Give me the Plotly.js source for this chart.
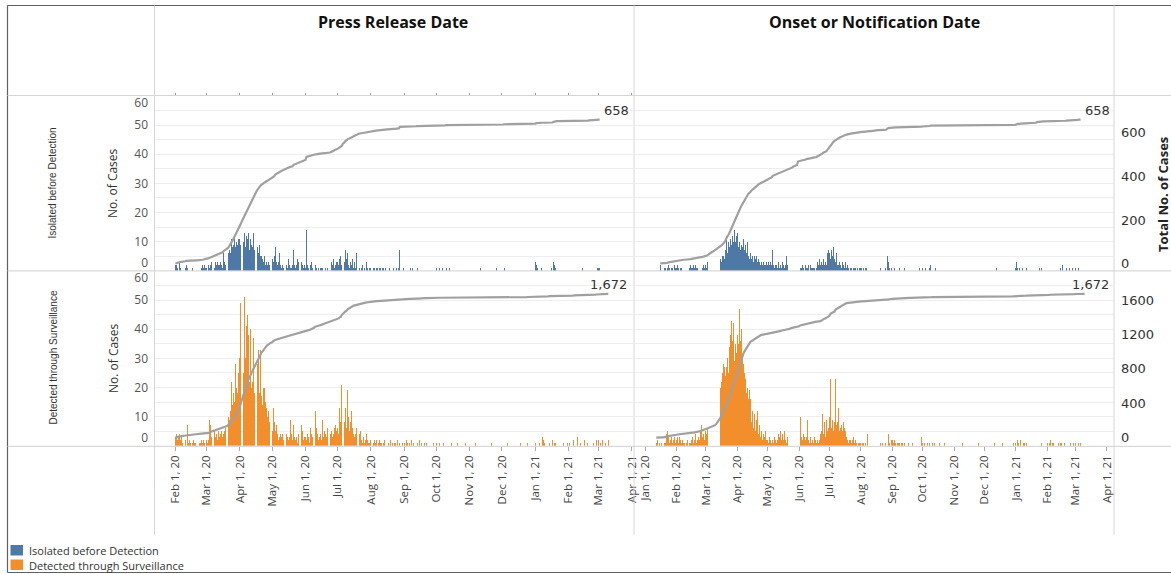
<!DOCTYPE html>
<html>
<head>
<meta charset="utf-8">
<script src="https://cdn.plot.ly/plotly-3.0.1.min.js"></script>
<style>
html, body { margin: 0; padding: 0; background: #ffffff; overflow: hidden; width: 1171px; height: 574px; }
#chart { width: 1171px; height: 574px; overflow: hidden; }
</style>
</head>
<body>
<div id="chart"></div>
<script>
// ---------------- DATA (daily new cases) ----------------
const columnTitles = ['Press Release Date', 'Onset or Notification Date'];
const rowTitles = ['Isolated before Detection', 'Detected through Surveillance'];
const seriesNames = ['Isolated before Detection', 'Detected through Surveillance'];

// Press release date, isolated before detection (from 2020-02-01)
const pressIsolatedStart = '2020-02-01';
const pressIsolated = [
  2,2,1,0,3,1,0,0,2,1,2,1,0,0,0,0,1,0,0,0,0,0,0,0,1,2,1,2,1,                 // Feb 20
  1,0,2,1,2,3,2,1,3,2,3,2,2,3,2,1,6,3,2,3,6,7,6,11,8,9,12,8,10,9,11,          // Mar
  11,9,12,10,13,8,12,11,13,7,11,9,8,13,7,10,8,6,9,5,5,4,3,5,2,3,2,3,2,3,      // Apr
  4,3,5,8,3,2,3,6,2,1,2,1,4,2,1,4,2,1,1,2,7,2,1,2,4,3,1,3,2,1,2,              // May
  1,14,2,1,0,2,3,1,1,2,1,0,1,0,1,1,1,0,0,1,0,1,1,0,3,2,4,1,2,3,               // Jun
  3,2,4,5,2,10,3,7,4,6,2,1,3,2,4,1,3,1,6,2,1,0,1,2,0,1,0,3,1,0,1,             // Jul
  1,0,1,1,0,1,1,0,1,1,0,1,1,0,1,0,0,1,0,0,0,1,0,0,1,0,1,7,0,0,1,              // Aug
  0,0,0,0,0,0,1,0,1,0,0,0,1,0,0,0,0,0,0,0,0,0,0,0,0,0,0,0,0,0,                // Sep
  1,0,0,1,0,0,1,0,0,1,0,0,1,0,0,0,0,0,0,0,0,0,0,0,0,0,0,0,0,0,0,              // Oct
  0,0,0,0,0,0,0,0,0,0,1,0,0,0,0,0,0,0,0,0,0,0,0,0,0,1,0,0,0,0,                // Nov
  0,0,1,0,0,0,0,0,0,0,0,0,0,0,0,0,0,0,0,0,0,0,0,0,0,0,0,0,0,0,0,              // Dec
  3,2,1,0,0,0,1,0,0,0,0,0,0,0,0,1,0,3,2,1,0,0,0,1,0,0,0,0,0,0,0,              // Jan 21
  0,0,0,0,0,0,1,0,0,0,0,0,0,1,0,0,0,0,0,1,0,0,0,0,0,0,0,1,                    // Feb 21
  1,1                                                                         // Mar 21
];

// Onset / notification date, isolated before detection (from 2020-01-16)
const onsetIsolatedStart = '2020-01-16';
const onsetIsolated = [
  2,0,0,0,1,1,0,1,2,1,0,1,1,0,2,1,                                            // Jan 20
  1,2,1,0,1,1,0,0,0,0,0,0,0,1,2,1,1,2,1,2,1,1,0,0,0,0,1,2,1,                  // Feb
  2,1,3,4,2,3,4,2,3,4,3,4,2,3,4,3,5,5,4,7,12,6,10,8,11,9,12,10,14,10,12,      // Mar
  13,8,10,7,9,8,11,7,9,6,10,5,4,6,4,5,3,5,4,5,3,4,3,2,3,2,3,2,2,3,            // Apr
  2,3,2,3,2,7,2,1,2,2,1,3,1,2,1,3,2,1,2,5,2,1,2,1,3,4,2,3,1,2,16,             // May
  2,1,1,2,1,0,2,1,1,2,0,2,1,1,1,1,0,1,3,2,4,2,3,2,4,2,3,2,6,7,                // Jun
  6,4,7,5,8,4,3,6,2,2,3,2,1,3,2,1,3,1,2,1,0,1,1,0,1,1,1,0,1,0,1,              // Jul
  1,1,0,1,0,1,1,0,0,1,0,1,0,0,1,0,2,0,0,1,0,0,0,0,1,0,5,3,1,0,1,              // Aug
  0,0,1,0,0,0,0,1,0,0,0,0,1,0,0,0,0,0,0,0,0,0,0,0,0,0,0,1,0,0,                // Sep
  1,0,0,1,0,0,0,1,2,0,0,0,0,1,0,0,0,0,0,0,0,0,0,0,0,0,0,0,0,0,0,              // Oct
  0,0,1,0,0,0,0,0,0,0,0,0,0,0,0,0,0,0,0,0,0,0,0,0,0,0,0,0,0,0,                // Nov
  0,0,0,0,0,0,0,0,0,0,0,0,1,0,0,0,0,0,0,0,0,0,0,0,0,0,0,0,0,0,0,              // Dec
  1,3,1,0,1,0,0,1,0,0,0,1,0,0,0,0,0,0,1,1,0,3,1,1,0,1,0,0,0,0,0,              // Jan 21
  0,0,0,0,0,0,0,0,0,0,0,0,0,1,0,2,0,0,0,1,0,0,1,0,0,1,0,0,                    // Feb 21
  1,0,0,1,0,0                                                                 // Mar 21
];

// Press release date, detected through surveillance (from 2020-02-01)
const pressDetectedStart = '2020-02-01';
const pressDetected = [
  3,4,2,3,4,2,3,1,1,2,0,7,1,2,1,0,1,2,1,1,0,2,1,1,2,1,2,1,0,                  // Feb 20
  2,1,2,9,7,3,4,5,3,4,2,5,3,4,5,3,4,5,6,8,10,9,12,22,14,18,15,28,20,18,25,    // Mar
  30,49,41,25,51,30,41,45,38,22,40,20,22,37,18,22,28,33,18,33,17,14,20,20,15,13,10,12,8,6, // Apr
  5,13,8,5,7,4,2,3,4,3,4,2,3,4,3,2,3,9,4,2,7,3,2,3,1,4,6,7,5,2,3,             // May
  3,2,4,3,1,6,4,3,13,12,6,4,2,3,4,2,9,3,5,4,3,6,2,4,5,3,4,6,7,5,              // Jun
  6,4,13,8,21,16,8,13,6,19,10,5,8,12,6,4,3,4,6,3,4,5,2,1,3,1,2,4,2,1,1,       // Jul
  2,3,1,2,1,2,0,1,2,1,1,0,1,2,0,1,1,0,2,0,1,0,1,1,0,2,0,1,0,1,0,              // Aug
  1,0,2,1,0,1,0,2,0,1,0,1,1,0,2,0,1,0,0,1,0,1,0,0,1,0,0,1,0,0,                // Sep
  1,0,0,1,0,0,0,1,0,0,0,0,0,0,1,0,0,0,0,0,1,0,0,0,0,0,0,1,0,0,0,              // Oct
  0,0,0,0,0,1,0,0,0,0,0,0,0,0,0,0,0,0,0,0,1,0,0,0,0,0,0,0,0,0,                // Nov
  0,0,0,0,0,1,0,0,0,0,0,0,0,0,0,0,0,1,0,0,0,0,0,0,1,0,0,0,0,0,0,              // Dec
  1,0,0,0,1,0,0,3,2,1,0,0,0,1,0,0,2,0,1,1,0,0,0,1,0,0,1,0,0,0,1,              // Jan 21
  0,1,0,0,0,2,0,0,3,0,0,1,0,0,0,2,0,0,1,0,0,0,0,1,0,0,2,0,                    // Feb 21
  2,0,1,0,2,0,1,0,0,2                                                         // Mar 21
];

// Onset / notification date, detected through surveillance (from 2020-01-12)
const onsetDetectedStart = '2020-01-12';
const onsetDetected = [
  1,2,0,1,0,1,0,0,1,1,4,5,3,1,2,3,1,2,3,1,                                    // Jan 20
  2,3,1,3,2,1,2,1,1,0,1,2,0,1,1,2,3,1,2,4,1,2,3,2,5,7,3,4,2,                  // Feb
  5,4,6,7,4,5,6,3,5,7,10,14,17,18,20,22,25,28,27,24,27,30,25,34,38,43,36,42,29,35,32, // Mar
  38,35,47,36,40,30,28,25,23,18,20,16,19,16,8,12,6,11,5,9,12,4,7,3,5,2,4,3,5,2,       // Apr
  2,1,3,2,1,2,1,3,2,1,2,4,3,5,2,4,2,5,2,1,3,1,2,9,2,3,4,2,1,1,5,              // May
  2,10,3,2,4,3,2,3,9,2,1,3,1,2,1,3,2,1,2,1,2,4,5,11,4,8,3,9,5,6,              // Jun
  10,23,6,9,5,8,23,7,8,13,5,6,7,5,8,6,5,3,2,1,2,2,1,2,3,1,2,1,0,1,1,          // Jul
  1,0,1,1,0,1,0,4,2,3,2,0,1,0,1,1,1,1,0,1,0,1,0,0,1,0,0,4,1,0,2,              // Aug
  2,1,2,1,0,1,1,1,0,1,1,0,1,0,0,0,1,0,0,0,1,0,0,0,0,0,0,0,0,3,                // Sep
  1,0,1,0,0,1,0,1,0,0,1,0,1,0,0,0,0,1,0,0,0,0,1,0,0,0,0,0,0,1,0,              // Oct
  0,0,0,0,0,0,0,0,1,0,0,0,0,0,0,0,0,0,0,0,0,0,0,0,1,0,0,0,0,0,                // Nov
  0,0,0,0,0,0,0,0,0,0,1,0,0,0,0,0,0,0,1,0,0,0,0,0,0,0,0,0,0,1,0,              // Dec
  1,0,2,1,0,2,0,0,1,1,0,1,0,0,1,1,0,0,0,2,0,0,0,0,0,1,0,0,0,0,0,              // Jan 21
  1,0,1,2,0,1,1,0,0,0,0,1,0,1,1,0,0,1,0,0,0,0,0,1,0,0,1,0,                    // Feb 21
  1,0,0,1,0,1,0,0,0,0                                                         // Mar 21
];

// Axis tick values
const leftTickText = ['0', '10', '20', '30', '40', '50', '60'];
const rightTicksTop = [0, 200, 400, 600];
const rightTicksBottom = [0, 400, 800, 1200, 1600];

// ---------------- BUILD ----------------
const W = 1171, H = 574;
const px = v => v / W;
const py = v => 1 - v / H;
const DAY = 86400000;

function dayList(start, n) {
  const t0 = Date.parse(start + 'T00:00:00Z');
  const out = [];
  for (let i = 0; i < n; i++) out.push(new Date(t0 + i * DAY).toISOString().slice(0, 10));
  return out;
}
function runningTotal(a) { let s = 0; return a.map(v => (s += v)); }

const BLUE = '#4e79a7', ORANGE = '#f28e2b', LINE = '#a0a0a0';
const FONT = 'Open Sans, Liberation Sans, Arial, sans-serif';
const NUMFONT = 'DejaVu Sans, Verdana, sans-serif';

const panels = [
  { vals: pressIsolated, start: pressIsolatedStart, xa: 'x',  ya: 'y',  yl: 'y5', color: BLUE,   name: seriesNames[0], anchor: 'left',   shift: 2 },
  { vals: onsetIsolated, start: onsetIsolatedStart, xa: 'x2', ya: 'y2', yl: 'y6', color: BLUE,   name: seriesNames[0], anchor: 'left',   shift: 2 },
  { vals: pressDetected, start: pressDetectedStart, xa: 'x3', ya: 'y3', yl: 'y7', color: ORANGE, name: seriesNames[1], anchor: 'center', shift: 0 },
  { vals: onsetDetected, start: onsetDetectedStart, xa: 'x4', ya: 'y4', yl: 'y8', color: ORANGE, name: seriesNames[1], anchor: 'center', shift: 6 }
];

const traces = [];
const annotations = [];
panels.forEach(p => {
  const d = dayList(p.start, p.vals.length);
  traces.push({
    type: 'bar', x: d, y: p.vals, xaxis: p.xa, yaxis: p.ya,
    width: d.map(() => 0.85 * DAY),
    marker: { color: p.color, line: { width: 0 } },
    name: p.name, showlegend: false, hoverinfo: 'skip'
  });
});
panels.forEach(p => {
  const d = dayList(p.start, p.vals.length);
  const cum = runningTotal(p.vals);
  traces.push({
    type: 'scatter', mode: 'lines', x: d, y: cum, xaxis: p.xa, yaxis: p.yl,
    line: { color: LINE, width: 2.2 }, showlegend: false, hoverinfo: 'skip'
  });
  const last = cum[cum.length - 1];
  annotations.push({
    xref: p.xa, yref: p.yl, x: d[d.length - 1], y: last,
    text: last.toLocaleString('en-US'), showarrow: false,
    xanchor: p.anchor, yanchor: 'bottom', xshift: p.shift,
    font: { family: NUMFONT, size: 13, color: '#333' }
  });
});
// empty traces so that the label-only / tick-only axes are drawn
traces.push({ type: 'scatter', x: [], y: [], xaxis: 'x', yaxis: 'y9', showlegend: false, hoverinfo: 'skip' });
traces.push({ type: 'scatter', x: [], y: [], xaxis: 'x3', yaxis: 'y10', showlegend: false, hoverinfo: 'skip' });
traces.push({ type: 'scatter', x: [], y: [], xaxis: 'x5', yaxis: 'y', showlegend: false, hoverinfo: 'skip' });

const rangeLeft = ['2020-01-13', '2021-04-02'];
const rangeRight = ['2019-12-22', '2021-04-07'];
const domL = [px(155), px(633)], domR = [px(635), px(1113)];
const row1 = [py(270.8), py(96)], row2 = [py(445.8), py(271)];
const rangeTop = [-31.5, 766], rangeBottom = [-94, 1937];

const hiddenX = r => ({ range: r, type: 'date', showticklabels: false, ticks: '', showgrid: false, zeroline: false, showline: false, fixedrange: true });
const tickX = (dom, anchor, r) => ({
  domain: dom, anchor: anchor, range: r, type: 'date', showgrid: false, zeroline: false, showline: false,
  ticks: 'outside', ticklen: 4, tickcolor: '#aaaaaa', tickwidth: 1,
  tickmode: 'linear', tick0: '2020-01-01', dtick: 'M1', tickformat: '%b %-d, %y', tickangle: -90,
  tickfont: { family: FONT, size: 11.5, color: '#444' }, fixedrange: true
});
const gridY = (dom, anchor) => ({
  domain: dom, anchor: anchor, range: [0, 60], tickmode: 'linear', tick0: 0, dtick: 5,
  showticklabels: false, ticks: '', showgrid: true, gridcolor: '#eeeeee', gridwidth: 1,
  zeroline: false, showline: false, fixedrange: true
});
const labelY = (over, anchor) => ({
  overlaying: over, anchor: anchor, side: 'left', range: [0, 60],
  tickmode: 'array', tickvals: [2.8, 10, 20, 30, 40, 50, 57.5], ticktext: leftTickText,
  ticks: '', ticklabelstandoff: 6, showgrid: false, zeroline: false, showline: false,
  tickfont: { family: FONT, size: 12, color: '#555' }, fixedrange: true
});
const lineY = (over, anchor, r, vals) => ({
  overlaying: over, anchor: anchor, side: 'right', range: r,
  tickmode: 'array', tickvals: vals || [], showticklabels: !!vals,
  ticks: '', ticklabelstandoff: 7, showgrid: false, zeroline: false, showline: false,
  tickfont: { family: NUMFONT, size: 13, color: '#333' }, fixedrange: true
});

const legendAnn = (text, y) => ({ xref: 'paper', yref: 'paper', x: px(27), y: py(y), text: text, showarrow: false, xanchor: 'left', yanchor: 'middle', font: { family: FONT, size: 11, color: '#333' } });
const legendBox = (color, y0) => ({ type: 'rect', xref: 'paper', yref: 'paper', x0: px(10.5), x1: px(23), y0: py(y0), y1: py(y0 + 10.5), fillcolor: color, line: { width: 0 } });

const layout = {
  width: W, height: H, autosize: false, margin: { l: 0, r: 0, t: 0, b: 0, pad: 0 },
  paper_bgcolor: '#ffffff', plot_bgcolor: 'rgba(0,0,0,0)',
  barmode: 'overlay', bargap: 0,
  font: { family: FONT, color: '#333' },
  showlegend: false,
  xaxis: Object.assign(hiddenX(rangeLeft), { domain: domL, anchor: 'y' }),
  xaxis2: Object.assign(hiddenX(rangeRight), { domain: domR, anchor: 'y2' }),
  xaxis3: tickX(domL, 'y3', rangeLeft),
  xaxis4: tickX(domR, 'y4', rangeRight),
  xaxis5: {
    overlaying: 'x', anchor: 'free', position: py(95.5), side: 'top', range: rangeLeft, type: 'date',
    ticks: 'outside', ticklen: 3, tickcolor: '#999999', tickwidth: 1, tickmode: 'linear',
    tick0: '2020-01-01', dtick: 'M1', showticklabels: false, showgrid: false, zeroline: false, showline: false, fixedrange: true
  },
  yaxis: gridY(row1, 'x'),
  yaxis2: gridY(row1, 'x2'),
  yaxis3: gridY(row2, 'x3'),
  yaxis4: gridY(row2, 'x4'),
  yaxis5: lineY('y', 'x', rangeTop),
  yaxis6: lineY('y2', 'x2', rangeTop, rightTicksTop),
  yaxis7: lineY('y3', 'x3', rangeBottom),
  yaxis8: lineY('y4', 'x4', rangeBottom, rightTicksBottom),
  yaxis9: labelY('y', 'x'),
  yaxis10: labelY('y3', 'x3'),
  annotations: annotations.concat([
    { xref: 'paper', yref: 'paper', x: px(393), y: py(22), text: '<b>' + columnTitles[0] + '</b>', showarrow: false, xanchor: 'center', yanchor: 'middle', font: { family: FONT, size: 16, color: '#111' } },
    { xref: 'paper', yref: 'paper', x: px(874), y: py(22), text: '<b>' + columnTitles[1] + '</b>', showarrow: false, xanchor: 'center', yanchor: 'middle', font: { family: FONT, size: 16, color: '#111' } },
    { xref: 'paper', yref: 'paper', x: px(52.5), y: py(183), text: rowTitles[0], textangle: -90, showarrow: false, xanchor: 'center', yanchor: 'middle', font: { family: 'Liberation Sans, Arial, sans-serif', size: 10, color: '#333' } },
    { xref: 'paper', yref: 'paper', x: px(52.5), y: py(358), text: rowTitles[1], textangle: -90, showarrow: false, xanchor: 'center', yanchor: 'middle', font: { family: 'Liberation Sans, Arial, sans-serif', size: 10, color: '#333' } },
    { xref: 'paper', yref: 'paper', x: px(113), y: py(183), text: 'No. of Cases', textangle: -90, showarrow: false, xanchor: 'center', yanchor: 'middle', font: { family: FONT, size: 12, color: '#333' } },
    { xref: 'paper', yref: 'paper', x: px(113), y: py(358), text: 'No. of Cases', textangle: -90, showarrow: false, xanchor: 'center', yanchor: 'middle', font: { family: FONT, size: 12, color: '#333' } },
    { xref: 'paper', yref: 'paper', x: px(1163), y: py(195), text: '<b>Total No. of Cases</b>', textangle: -90, showarrow: false, xanchor: 'center', yanchor: 'middle', font: { family: FONT, size: 13, color: '#222' } },
    legendAnn(seriesNames[0], 550.5),
    legendAnn(seriesNames[1], 565)
  ]),
  shapes: [
    // outer frame
    { type: 'line', xref: 'paper', yref: 'paper', x0: px(7.5), x1: 1, y0: py(5.5), y1: py(5.5), line: { color: '#606060', width: 1.2 } },
    { type: 'line', xref: 'paper', yref: 'paper', x0: px(7.5), x1: px(7.5), y0: py(5.5), y1: py(572.5), line: { color: '#606060', width: 1.2 } },
    { type: 'line', xref: 'paper', yref: 'paper', x0: px(7.5), x1: 1, y0: py(572.5), y1: py(572.5), line: { color: '#606060', width: 1.2 } },
    // inner dividers
    { type: 'line', xref: 'paper', yref: 'paper', x0: px(154.5), x1: px(154.5), y0: py(5.5), y1: py(535), line: { color: '#d6d6d6', width: 1 } },
    { type: 'line', xref: 'paper', yref: 'paper', x0: px(634), x1: px(634), y0: py(5.5), y1: py(535), line: { color: '#d6d6d6', width: 1 } },
    { type: 'line', xref: 'paper', yref: 'paper', x0: px(1114), x1: px(1114), y0: py(5.5), y1: py(535), line: { color: '#d6d6d6', width: 1 } },
    { type: 'line', xref: 'paper', yref: 'paper', x0: px(7.5), x1: 1, y0: py(95.5), y1: py(95.5), line: { color: '#d6d6d6', width: 1 } },
    { type: 'line', xref: 'paper', yref: 'paper', x0: px(7.5), x1: 1, y0: py(270.9), y1: py(270.9), line: { color: '#d0d0d0', width: 1 } },
    { type: 'line', xref: 'paper', yref: 'paper', x0: px(7.5), x1: 1, y0: py(446.3), y1: py(446.3), line: { color: '#d0d0d0', width: 1 } },
    // legend swatches
    legendBox(BLUE, 545),
    legendBox(ORANGE, 559.5)
  ]
};

Plotly.newPlot('chart', traces, layout, { staticPlot: true, displayModeBar: false, responsive: false });
</script>
</body>
</html>
